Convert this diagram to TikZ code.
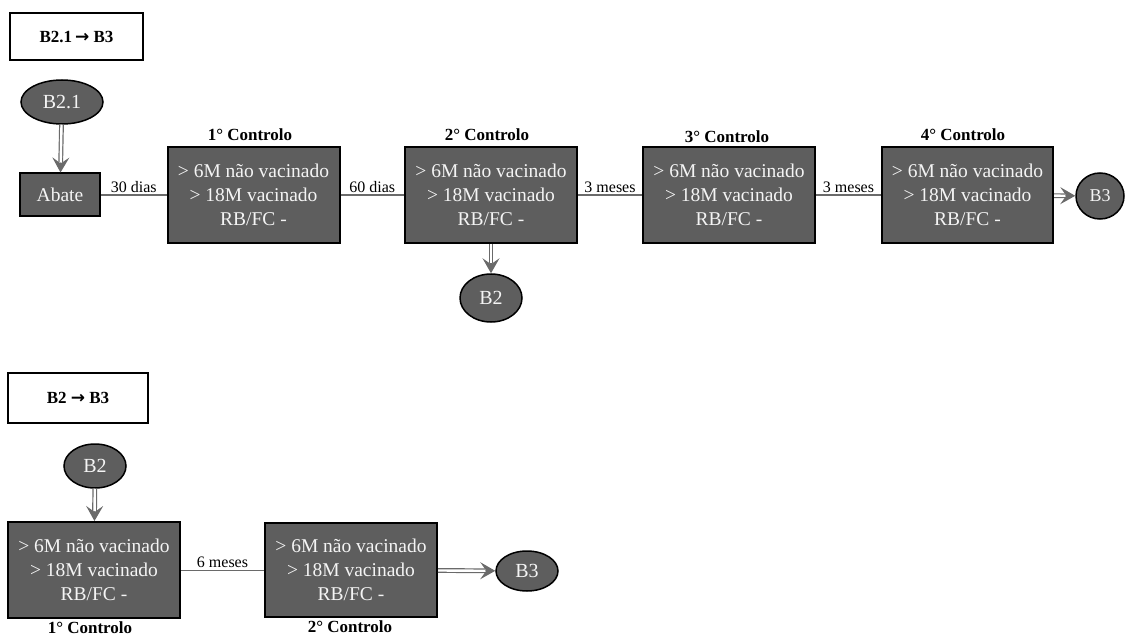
\documentclass[tikz,border=0pt]{standalone}
\usepackage{fontspec}
\setmainfont{Liberation Serif}
\newfontfamily\arrowfont{DejaVu Sans}
\usetikzlibrary{arrows.meta,shapes.geometric}
\definecolor{boxfill}{HTML}{5E5E5E}
\definecolor{txtwhite}{HTML}{F4F4F4}
\definecolor{lnk}{HTML}{6A6A6A}
\begin{document}
\begin{tikzpicture}[x=1pt,y=-1pt,
  ctrl/.style={draw=black, line width=2pt, fill=boxfill, text=txtwhite, rectangle,
    minimum width=172pt, minimum height=96pt, align=center, inner sep=0pt,
    font=\fontsize{19.5}{24}\selectfont},
  oval/.style={draw=black, line width=1.5pt, fill=boxfill, text=txtwhite, ellipse,
    inner sep=0pt, font=\fontsize{20}{22}\selectfont},
  titlebox/.style={draw=black, line width=1.5pt, fill=white, rectangle, inner sep=0pt,
    font=\bfseries\fontsize{17}{20}\selectfont},
  ctitle/.style={font=\bfseries\fontsize{17}{20}\selectfont, inner sep=0pt},
  link/.style={draw=lnk, line width=1.5pt},
  lbl/.style={font=\fontsize{16}{18}\selectfont, inner sep=2pt, above},
  dbl/.style={draw=lnk, line width=1.2pt,
    -{Stealth[length=15pt, width=17pt, inset=6pt]},
    postaction={draw=lnk, -, line width=1.2pt, double=white, double distance=2.4pt, shorten >=10pt}}
]
\useasboundingbox (0,0) rectangle (1126,636);

% ---------- upper flow ----------
\node[titlebox, minimum width=133pt, minimum height=47pt] (t1) at (76.5,36.5) {B2.1\,{\arrowfont\bfseries →} B3};
\node[oval, minimum width=82pt, minimum height=44pt] (b21) at (62,102) {B2.1};
\node[ctrl, minimum width=80pt, minimum height=43pt] (abate) at (60,195) {Abate};
\node[ctrl] (c1) at (253.5,195) {> 6M não vacinado\\ > 18M vacinado\\ RB/FC -};
\node[ctrl] (c2) at (491,195) {> 6M não vacinado\\ > 18M vacinado\\ RB/FC -};
\node[ctrl] (c3) at (729,195) {> 6M não vacinado\\ > 18M vacinado\\ RB/FC -};
\node[ctrl, minimum width=171pt] (c4) at (967.5,195) {> 6M não vacinado\\ > 18M vacinado\\ RB/FC -};
\node[oval, minimum width=48pt, minimum height=46pt, font=\fontsize{18}{20}\selectfont] (b3a) at (1100,196) {B3};
\node[oval, minimum width=62pt, minimum height=48pt] (b2a) at (491,298) {B2};

\node[ctitle] (c1t) at (250,135) {1° Controlo};
\node[ctitle] (c2t) at (487,135) {2° Controlo};
\node[ctitle] (c3t) at (727,137) {3° Controlo};
\node[ctitle] (c4t) at (963,135) {4° Controlo};

\draw[dbl] (b21) -- (abate);
\draw[link] (abate) -- node[lbl] {30 dias} (c1);
\draw[link] (c1) -- node[lbl] {60 dias} (c2);
\draw[link] (c2) -- node[lbl] {3 meses} (c3);
\draw[link] (c3) -- node[lbl] {3 meses} (c4);
\draw[dbl] (c4) -- (b3a);
\draw[dbl] (c2) -- (b2a);

% ---------- lower flow ----------
\node[titlebox, minimum width=140pt, minimum height=50pt] (t2) at (78,398) {B2 {\arrowfont\bfseries →} B3};
\node[oval, minimum width=62pt, minimum height=44pt] (b2b) at (95,466) {B2};
\node[ctrl] (l1) at (94,570) {> 6M não vacinado\\ > 18M vacinado\\ RB/FC -};
\node[ctrl, minimum height=94pt] (l2) at (351,570) {> 6M não vacinado\\ > 18M vacinado\\ RB/FC -};
\node[oval, minimum width=62pt, minimum height=40pt] (b3b) at (527,571) {B3};

\node[ctitle] (l1t) at (90,628) {1° Controlo};
\node[ctitle] (l2t) at (350,627) {2° Controlo};

\draw[dbl] (b2b) -- (l1);
\draw[link, line width=1pt] (l1) -- node[lbl] {6 meses} (l2);
\draw[dbl] (l2) -- (b3b);
\end{tikzpicture}
\end{document}
